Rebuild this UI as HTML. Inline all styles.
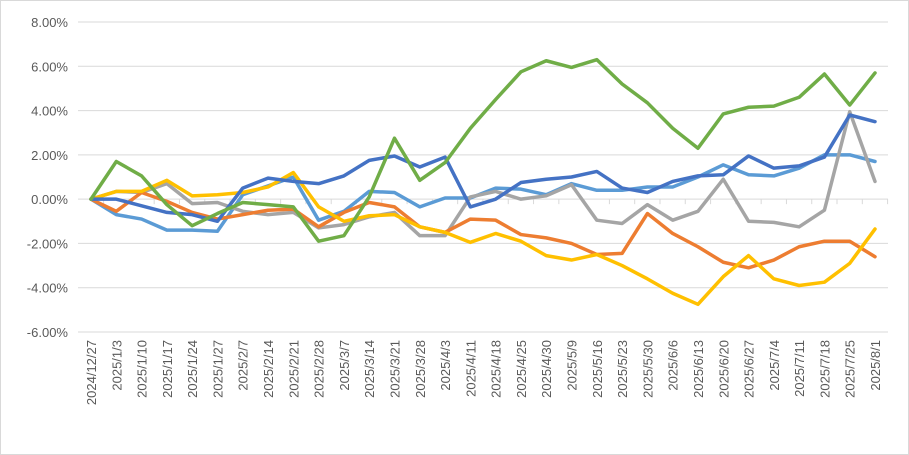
<!DOCTYPE html>
<html><head><meta charset="utf-8"><style>
body{margin:0;background:#fff;}
svg{display:block;font-family:"Liberation Sans",sans-serif;}
</style></head><body>
<svg id="c" width="909" height="455">
<rect x="0.5" y="0.5" width="908" height="454" fill="#fff" stroke="#d9d9d9"/>
<g id="grid"></g><g id="ylab"></g><g id="xlab"></g><g id="series"></g>
</svg>
<script>
const categories=["2024/12/27","2025/1/3","2025/1/10","2025/1/17","2025/1/24","2025/1/27","2025/2/7","2025/2/14","2025/2/21","2025/2/28","2025/3/7","2025/3/14","2025/3/21","2025/3/28","2025/4/3","2025/4/11","2025/4/18","2025/4/25","2025/4/30","2025/5/9","2025/5/16","2025/5/23","2025/5/30","2025/6/6","2025/6/13","2025/6/20","2025/6/27","2025/7/4","2025/7/11","2025/7/18","2025/7/25","2025/8/1"];
const yTicks=[8,6,4,2,0,-2,-4,-6];
const seriesLightBlue=[0,-0.7,-0.9,-1.4,-1.4,-1.45,0.2,0.6,1.0,-0.95,-0.55,0.35,0.3,-0.35,0.05,0.05,0.5,0.45,0.2,0.7,0.4,0.4,0.55,0.55,1.0,1.55,1.1,1.05,1.4,2.0,2.0,1.7];
const seriesGray=[0,0.35,0.3,0.7,-0.2,-0.15,-0.55,-0.7,-0.6,-1.3,-1.15,-0.8,-0.6,-1.65,-1.65,0.1,0.35,0.0,0.15,0.65,-0.95,-1.1,-0.25,-0.95,-0.55,0.9,-1.0,-1.05,-1.25,-0.5,3.95,0.8];
const seriesOrange=[0,-0.55,0.3,-0.1,-0.6,-0.9,-0.7,-0.5,-0.45,-1.25,-0.6,-0.15,-0.35,-1.25,-1.5,-0.9,-0.95,-1.6,-1.75,-2.0,-2.5,-2.45,-0.65,-1.55,-2.15,-2.85,-3.1,-2.75,-2.15,-1.9,-1.9,-2.6];
const seriesYellow=[0,0.35,0.35,0.85,0.15,0.2,0.3,0.55,1.2,-0.35,-1.0,-0.75,-0.7,-1.25,-1.5,-1.95,-1.55,-1.9,-2.55,-2.75,-2.5,-3.0,-3.6,-4.25,-4.75,-3.5,-2.55,-3.6,-3.9,-3.75,-2.9,-1.35];
const seriesDarkBlue=[0,0,-0.3,-0.6,-0.7,-1.0,0.5,0.95,0.8,0.7,1.05,1.75,1.95,1.45,1.9,-0.35,0.0,0.75,0.9,1.0,1.25,0.5,0.3,0.8,1.05,1.1,1.95,1.4,1.5,1.9,3.8,3.5];
const seriesGreen=[0,1.7,1.05,-0.25,-1.2,-0.65,-0.15,-0.25,-0.35,-1.9,-1.65,0.1,2.75,0.85,1.65,3.2,4.5,5.75,6.25,5.95,6.3,5.2,4.35,3.2,2.3,3.85,4.15,4.2,4.6,5.65,4.25,5.7];
const NS="http://www.w3.org/2000/svg";
const x0=91,x1=875,yTop=22,yBot=332;
function xs(i){return x0+(x1-x0)*i/(categories.length-1);}
function ys(v){return yTop+(8-v)/14*(yBot-yTop);}
function mk(t,a,p){const e=document.createElementNS(NS,t);for(const k in a)e.setAttribute(k,a[k]);p.appendChild(e);return e;}
const grid=document.getElementById('grid'),yl=document.getElementById('ylab'),xl=document.getElementById('xlab'),sg=document.getElementById('series');
yTicks.forEach(v=>{
 const l=mk('line',{x1:78,x2:888,y1:ys(v),y2:ys(v),stroke:'#d9d9d9','stroke-width':1},grid);
 
 
 const t=mk('text',{x:68,y:ys(v)+5,'text-anchor':'end','font-size':13,fill:'#595959'},yl);
 t.textContent=v.toFixed(2)+'%';
 
 
});
categories.forEach((c,i)=>{
 const tk=mk('line',{x1:xs(i)+12.6,x2:xs(i)+12.6,y1:ys(0),y2:ys(0)+5,stroke:'#d9d9d9'},grid);
 
 
 const x=xs(i)+5,y=340;
 const t=mk('text',{x:x,y:y,'text-anchor':'end','font-size':13,fill:'#595959',transform:`rotate(-90 ${x} ${y})`},xl);
 t.textContent=c;
 
 
});
const list=[[seriesLightBlue,'#5b9bd5','series-light-blue'],[seriesGray,'#a5a5a5','series-gray'],[seriesOrange,'#ed7d31','series-orange'],[seriesYellow,'#ffc000','series-yellow'],[seriesDarkBlue,'#4472c4','series-dark-blue'],[seriesGreen,'#70ad47','series-green']];
list.forEach(([d,col,nm])=>{
 const p=mk('polyline',{points:d.map((v,i)=>xs(i)+','+ys(v)).join(' '),fill:'none',stroke:col,'stroke-width':3.5,'stroke-linejoin':'round','stroke-linecap':'round'},sg);
 
 
});
</script>
</body></html>
